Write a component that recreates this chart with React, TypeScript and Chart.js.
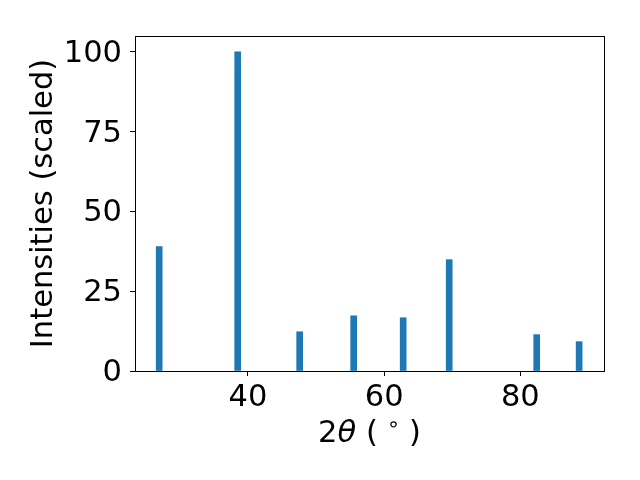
import React, { useEffect, useRef } from "react";
import { Chart, registerables } from "chart.js";

Chart.register(...registerables);

// Peak positions (2θ, degrees) and scaled intensities
const peakPositions = [26.96, 38.49, 47.59, 55.52, 62.79, 69.55, 82.4, 88.63];
const peakIntensities = [39.0, 100, 12.3, 17.3, 16.7, 34.9, 11.4, 9.2];
const xTicks = [40, 60, 80];
const yTicks = [0, 25, 50, 75, 100];
const xRange = [23.41, 92.28];
const yRange = [0, 105];
// x-axis label pieces: "2θ (°)" with italic theta and superscript degree ring
const xLabelParts = [
  { text: "2", style: "normal", sup: false, gap: 0 },
  { text: "θ", style: "italic", sup: false, gap: 10 },
  { text: "(", style: "normal", sup: false, gap: 9 },
  { text: "∘", style: "normal", sup: true, gap: 9 },
  { text: ")", style: "normal", sup: false, gap: 0 },
];
const yLabel = "Intensities (scaled)";

const FONT = "'DejaVu Sans', sans-serif";
const SIZE = 30.5;

const framePlugin = {
  id: "frame",
  afterDraw(chart: any) {
    const { ctx, chartArea } = chart;
    const { left, top, right, bottom } = chartArea;
    ctx.save();
    ctx.strokeStyle = "#000";
    ctx.lineWidth = 1;
    ctx.strokeRect(
      Math.round(left) + 0.5,
      Math.round(top) + 0.5,
      Math.round(right) - Math.round(left),
      Math.round(bottom) - Math.round(top)
    );
    ctx.restore();
  },
};

const xTitlePlugin = {
  id: "xTitle",
  afterDraw(chart: any) {
    const { ctx, chartArea } = chart;
    const fontFor = (p: any) =>
      `${p.style === "italic" ? "italic " : ""}${p.sup ? Math.round(SIZE * 0.7) : SIZE}px ${FONT}`;
    ctx.save();
    ctx.fillStyle = "#000";
    ctx.textBaseline = "alphabetic";
    ctx.textAlign = "left";
    const widths = xLabelParts.map((p) => {
      ctx.font = fontFor(p);
      return ctx.measureText(p.text).width + p.gap;
    });
    const total = widths.reduce((a, b) => a + b, 0);
    let x = (chartArea.left + chartArea.right) / 2 - total / 2;
    const baseY = chartArea.bottom + 70.5;
    xLabelParts.forEach((p, i) => {
      ctx.font = fontFor(p);
      ctx.fillText(p.text, x, p.sup ? baseY - 11 : baseY);
      x += widths[i];
    });
    ctx.restore();
  },
};

export default function App() {
  const ref = useRef<HTMLCanvasElement | null>(null);

  useEffect(() => {
    document.body.style.margin = "0";
    if (!ref.current) return;
    const chart = new Chart(ref.current, {
      type: "bar",
      data: {
        datasets: [
          {
            data: peakPositions.map((x, i) => ({ x, y: peakIntensities[i] })),
            backgroundColor: "#1f77b4",
            borderWidth: 0,
            barThickness: 6,
          },
        ],
      },
      options: {
        animation: false,
        responsive: true,
        maintainAspectRatio: false,
        layout: { padding: { left: 0, top: 36, right: 36, bottom: 0 } },
        plugins: {
          legend: { display: false },
          tooltip: { enabled: false },
        },
        scales: {
          x: {
            type: "linear",
            min: xRange[0],
            max: xRange[1],
            offset: false,
            afterBuildTicks: (scale: any) => {
              scale.ticks = xTicks.map((v) => ({ value: v }));
            },
            afterFit: (scale: any) => {
              scale.height = 109;
            },
            grid: {
              offset: false,
              drawOnChartArea: false,
              drawTicks: true,
              tickLength: 5,
              color: "#000",
              lineWidth: 1,
            },
            border: { display: false },
            ticks: {
              color: "#000",
              font: { family: FONT, size: SIZE },
              padding: 4,
              maxRotation: 0,
              autoSkip: false,
            },
            title: { display: false },
          },
          y: {
            type: "linear",
            min: yRange[0],
            max: yRange[1],
            afterBuildTicks: (scale: any) => {
              scale.ticks = yTicks.map((v) => ({ value: v }));
            },
            afterFit: (scale: any) => {
              scale.width = 135;
            },
            grid: {
              offset: false,
              drawOnChartArea: false,
              drawTicks: true,
              tickLength: 5,
              color: "#000",
              lineWidth: 1,
            },
            border: { display: false },
            ticks: {
              color: "#000",
              font: { family: FONT, size: SIZE },
              padding: 8,
              labelOffset: 2,
              autoSkip: false,
            },
            title: {
              display: true,
              text: yLabel,
              color: "#000",
              font: { family: FONT, size: SIZE, lineHeight: 1.2 },
              padding: { top: 26, bottom: 0 },
            },
          },
        },
      },
      plugins: [framePlugin, xTitlePlugin],
    });
    return () => chart.destroy();
  }, []);

  return (
    <div style={{ position: "fixed", left: 0, top: 0, width: 640, height: 480, background: "#fff" }}>
      <canvas ref={ref} width={640} height={480} />
    </div>
  );
}
